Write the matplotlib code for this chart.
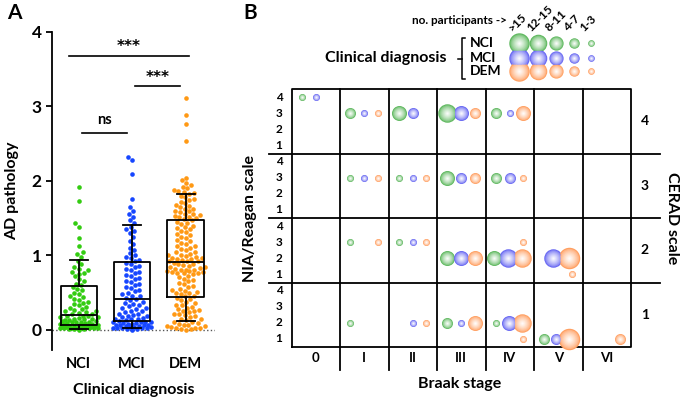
import numpy as np
import matplotlib
matplotlib.use("Agg")
import matplotlib.pyplot as plt
from matplotlib.colors import to_rgb

plt.rcParams['font.family'] = ['Lato', 'DejaVu Sans']
plt.rcParams['font.weight'] = 'bold'

# ---------------- panel A data ----------------
groups = ['NCI', 'MCI', 'DEM']
point_colors = ['#33cc11', '#1646ff', '#ff9914']

nci_values = [1.92, 1.73, 1.43, 1.38, 1.23, 1.13, 1.04, 1.02, 0.98,
              0.93, 0.88, 0.85, 0.82, 0.80, 0.78, 0.77, 0.75, 0.72, 0.68, 0.65, 0.62, 0.60,
              0.57, 0.55, 0.53, 0.50, 0.48, 0.46, 0.44, 0.42, 0.40, 0.38, 0.36, 0.35, 0.33,
              0.31, 0.30, 0.28, 0.27, 0.26, 0.25, 0.24, 0.23, 0.22, 0.21,
              0.19, 0.19, 0.18, 0.17, 0.17, 0.16, 0.15, 0.15, 0.14, 0.13, 0.13, 0.12,
              0.12, 0.11, 0.11, 0.10, 0.10, 0.09, 0.09, 0.08, 0.08, 0.08, 0.07,
              0.06, 0.06, 0.06, 0.05, 0.05, 0.05, 0.04, 0.04, 0.04, 0.04, 0.03, 0.03,
              0.03, 0.03, 0.02, 0.02, 0.02, 0.02, 0.01, 0.01, 0.01, 0.00]
mci_values = [2.32, 2.28, 2.09, 1.76, 1.65, 1.60, 1.56, 1.52, 1.47, 1.43,
              1.38, 1.35, 1.33, 1.30, 1.25, 1.20, 1.15, 1.10, 1.07, 1.03, 1.00, 0.98,
              0.96, 0.94, 0.92,
              0.90, 0.88, 0.86, 0.84, 0.82, 0.80, 0.78, 0.76, 0.74, 0.72, 0.70, 0.68,
              0.66, 0.64, 0.62, 0.60, 0.58, 0.56, 0.54, 0.52, 0.50, 0.48, 0.46, 0.45, 0.43,
              0.41, 0.40, 0.38, 0.36, 0.35, 0.33, 0.32, 0.30, 0.29, 0.28, 0.26, 0.25,
              0.24, 0.22, 0.21, 0.20, 0.19, 0.18, 0.17, 0.16, 0.15, 0.14, 0.14, 0.13, 0.12,
              0.11, 0.11, 0.10, 0.10, 0.09, 0.09, 0.08, 0.08, 0.07, 0.07, 0.06, 0.06,
              0.05, 0.05, 0.04, 0.04, 0.04, 0.03, 0.03, 0.02, 0.02, 0.02, 0.01, 0.01, 0.00]
dem_values = [3.11, 2.88, 2.76, 2.54, 2.04, 2.01, 1.97, 1.95, 1.92, 1.90, 1.88, 1.86,
              1.85, 1.84, 1.83,
              1.80, 1.78, 1.76, 1.74, 1.72, 1.70, 1.68, 1.66, 1.65, 1.63, 1.62, 1.60,
              1.59, 1.58, 1.56, 1.55, 1.54, 1.53, 1.52, 1.51, 1.50, 1.49,
              1.47, 1.45, 1.44, 1.42, 1.40, 1.38, 1.37, 1.35, 1.33, 1.31, 1.29, 1.27,
              1.25, 1.23, 1.21, 1.19, 1.17, 1.15, 1.13, 1.12, 1.10, 1.08, 1.07, 1.05,
              1.04, 1.02, 1.01, 1.00, 0.99, 0.98, 0.97, 0.96, 0.95, 0.95, 0.94, 0.93,
              0.92, 0.92,
              0.90, 0.89, 0.88, 0.87, 0.86, 0.85, 0.84, 0.83, 0.82, 0.81, 0.80, 0.80,
              0.79, 0.79, 0.78, 0.78, 0.77, 0.77, 0.76, 0.75, 0.73, 0.71, 0.69, 0.67,
              0.65, 0.63, 0.61, 0.59, 0.57, 0.55, 0.53, 0.52, 0.51, 0.50, 0.49, 0.48,
              0.46, 0.45,
              0.43, 0.42, 0.40, 0.38, 0.36, 0.34, 0.33, 0.31, 0.30, 0.28, 0.27, 0.26,
              0.25, 0.24, 0.22, 0.21, 0.20, 0.18, 0.17, 0.15, 0.14, 0.13,
              0.11, 0.10, 0.09, 0.08, 0.07, 0.06, 0.05, 0.05, 0.04, 0.03, 0.03, 0.02,
              0.01, 0.01, 0.00]

# box: median, quartiles, whiskers at 10th / 90th percentile
box_med = [0.20, 0.42, 0.91]
box_q1 = [0.07, 0.12, 0.44]
box_q3 = [0.59, 0.91, 1.48]
whisk_lo = [0.01, 0.02, 0.12]
whisk_hi = [0.94, 1.41, 1.82]

# significance bars: (x start, x end, height, label)
sig_bars = [(0.06, 0.90, 2.65, 'ns'), (1.05, 1.89, 3.27, '***'), (-0.19, 2.07, 3.68, '***')]

# ---------------- panel B data ----------------
braak_labels = ['0', 'I', 'II', 'III', 'IV', 'V', 'VI']
size_labels = ['>15', '12-15', '8-11', '4-7', '1-3']
bubble_colors = {'N': '#5fb85f', 'M': '#6868f2', 'D': '#ffa062'}
# bubbles per CERAD score: (braak index, NIA/Reagan score, group, size class 1=1-3 ... 5=>15)
cerad4 = [(0, 4, 'N', 1), (0, 4, 'M', 1), (1, 3, 'N', 2), (1, 3, 'M', 1), (1, 3, 'D', 1),
          (2, 3, 'N', 3), (2, 3, 'M', 2), (3, 3, 'N', 4), (3, 3, 'M', 3), (3, 3, 'D', 2),
          (4, 3, 'N', 2), (4, 3, 'M', 1), (4, 3, 'D', 3)]
cerad3 = [(1, 3, 'N', 1), (1, 3, 'M', 1), (1, 3, 'D', 1), (2, 3, 'N', 1), (2, 3, 'M', 1),
          (2, 3, 'D', 1), (3, 3, 'N', 3), (3, 3, 'M', 2), (3, 3, 'D', 2), (4, 3, 'N', 2),
          (4, 3, 'M', 2), (4, 3, 'D', 1)]
cerad2 = [(1, 3, 'N', 1), (1, 3, 'D', 1), (2, 3, 'N', 1), (2, 3, 'M', 1), (2, 3, 'D', 1),
          (3, 2, 'N', 3), (3, 2, 'M', 3), (3, 2, 'D', 3), (4, 2, 'N', 3), (4, 2, 'M', 4),
          (4, 2, 'D', 4), (4, 3, 'D', 1), (5, 2, 'M', 4), (5, 2, 'D', 5), (5, 1, 'D', 1)]
cerad1 = [(1, 2, 'N', 1), (2, 2, 'M', 1), (2, 2, 'D', 1), (3, 2, 'N', 2), (3, 2, 'M', 1),
          (3, 2, 'D', 3), (4, 2, 'N', 1), (4, 2, 'M', 3), (4, 2, 'D', 4), (4, 1, 'D', 1),
          (5, 1, 'N', 2), (5, 1, 'M', 2), (5, 1, 'D', 5), (6, 1, 'D', 2)]
cerad_rows = {4: cerad4, 3: cerad3, 2: cerad2, 1: cerad1}

# diameters (px) for size classes 1..5
class_diam = {1: 7.0, 2: 11.0, 3: 15.0, 4: 18.5, 5: 21.5}

W, H = 685, 400
fig = plt.figure(figsize=(W / 100, H / 100), dpi=100)


def fx(px):
    return px / W


def fy(py):
    return 1 - py / H


def swarm_offsets(values, px_per_unit, diam, max_half):
    # beeswarm in pixels; when there is no free spot inside the band,
    # take the spot inside the band that is farthest from its neighbours
    vals = np.asarray(values, dtype=float)
    order = np.argsort(vals)
    ys = vals[order] * px_per_unit
    placed = []
    xs = np.zeros(len(ys))
    grid = np.linspace(-max_half, max_half, 41)
    for i, y in enumerate(ys):
        near = [(px, py) for px, py in placed if abs(y - py) < diam]
        cands = [0.0]
        for px, py in near:
            dx = np.sqrt(diam ** 2 - (y - py) ** 2)
            cands += [px + dx, px - dx]
        cands = [c for c in cands if abs(c) <= max_half]
        cands.sort(key=lambda c: (abs(c), c))
        chosen = None
        for c in cands:
            if all((c - px) ** 2 + (y - py) ** 2 >= diam ** 2 - 1e-6 for px, py in near):
                chosen = c
                break
        if chosen is None:
            best = -1
            for c in grid:
                d = min((c - px) ** 2 + (y - py) ** 2 for px, py in near)
                if d > best + 1e-9:
                    best, chosen = d, c
        xs[i] = chosen
        placed.append((chosen, y))
    out = np.empty(len(ys))
    out[order] = xs
    return out


# ================= Panel A =================
axA = fig.add_axes([fx(52), fy(350), fx(215) - fx(52), fy(32) - fy(350)])
ylo, yhi = -0.27, 4.0
axA.set_ylim(ylo, yhi)
axA.set_xlim(-0.5, 2.55)
px_per_y = 318 / (yhi - ylo)
px_per_x = 163 / 3.05

for i, vals in enumerate([nci_values, mci_values, dem_values]):
    off = swarm_offsets(vals, px_per_y, 5.0, 19.0) / px_per_x
    axA.scatter(i + off, vals, s=(4.6 * 0.72) ** 2, color=point_colors[i],
                linewidths=0, zorder=2, clip_on=False)

stats = []
for i in range(3):
    stats.append(dict(med=box_med[i], q1=box_q1[i], q3=box_q3[i],
                      whislo=whisk_lo[i], whishi=whisk_hi[i], fliers=[]))
lp = dict(color='black', linewidth=1.3)
axA.bxp(stats, positions=[0, 1, 2], widths=0.68, capwidths=0.34, showfliers=False,
        boxprops=lp, whiskerprops=lp, capprops=lp, medianprops=lp, zorder=3)

axA.axhline(0, color='#555555', linestyle=':', linewidth=1.0, zorder=1)

for x0, x1, yv, lab in sig_bars:
    axA.plot([x0, x1], [yv, yv], color='black', linewidth=1.2, clip_on=False)
    if lab == 'ns':
        axA.text((x0 + x1) / 2, yv + 0.07, lab, ha='center', va='bottom', fontsize=10.5,
                 fontweight='bold')
    else:
        axA.text((x0 + x1) / 2, yv + 0.02, lab, ha='center', va='bottom', fontsize=11,
                 fontweight='bold', family='DejaVu Sans')

axA.spines['top'].set_visible(False)
axA.spines['right'].set_visible(False)
axA.spines['bottom'].set_visible(False)
axA.spines['left'].set_linewidth(1.3)
axA.set_yticks([0, 1, 2, 3, 4])
axA.tick_params(axis='y', labelsize=12.5, width=1.3, length=4)
axA.set_xticks([0, 1, 2])
axA.set_xticklabels(groups)
axA.tick_params(axis='x', length=0, labelsize=10.5, pad=5)
axA.set_ylabel('AD pathology', fontsize=11.5, fontweight='bold')
axA.yaxis.set_label_coords(-0.2, 0.5)
axA.set_xlabel('Clinical diagnosis', fontsize=11.5, fontweight='bold', labelpad=9)

# ================= Panel B =================
gx0, gx1, gy0, gy1 = 291.5, 631.0, 89.0, 347.0
axB = fig.add_axes([fx(gx0), fy(gy1), fx(gx1) - fx(gx0), fy(gy0) - fy(gy1)])
axB.set_xlim(0, 7)
axB.set_ylim(0, 16)
axB.axis('off')
cell_px = (gx1 - gx0) / 7
sub_px = (gy1 - gy0) / 16

lw = 1.3
axB.plot([0, 7, 7, 0, 0], [0, 0, 16, 16, 0], color='black', lw=lw, clip_on=False)
for yv in [4, 8, 12]:
    axB.plot([-22.5 / cell_px, 7 + 29 / cell_px], [yv, yv], color='black', lw=lw, clip_on=False)
for xv in range(1, 7):
    axB.plot([xv, xv], [-23 / sub_px, 16], color='black', lw=lw, clip_on=False)

for j, lab in enumerate(braak_labels):
    axB.text(j + 0.5, -11 / sub_px, lab, ha='center', va='center', fontsize=9.5,
             fontweight='bold')
for c in range(1, 5):
    base = (c - 1) * 4
    for n in range(1, 5):
        axB.text(-12.5 / cell_px, base + n - 0.5, str(n), ha='center', va='center',
                 fontsize=8.5, fontweight='bold')
    axB.text(7 + 14 / cell_px, base + 2, str(c), ha='center', va='center', fontsize=10,
             fontweight='bold')


def bubble(ax, x, y, diam_px, color):
    rgb = np.array(to_rgb(color))
    steps = 9
    for k in range(steps):
        frac = 1 - k / steps
        w = 0.95 * (k / (steps - 1)) ** 0.7
        col = rgb * (1 - w) + w
        ax.scatter([x], [y], s=(diam_px * frac * 0.72) ** 2, color=col, linewidths=0,
                   zorder=4 + k * 0.01, clip_on=False)


base_off = {'N': 0.21, 'M': 0.50, 'D': 0.78}
for c, rows in cerad_rows.items():
    cells = {}
    for b, n, g, sz in rows:
        cells.setdefault((b, n), {})[g] = sz
    for (b, n), members in cells.items():
        xs = {}
        right = None
        for g in ['D', 'M', 'N']:
            if g not in members:
                continue
            r = class_diam[members[g]] / 2
            x = base_off[g]
            if g == 'D':
                x = min(x, 1 - (r + 0.5) / cell_px - 0.04)
            if right is not None:
                x = min(x, right[0] - (right[1] + r) * 0.8 / cell_px)
            xs[g] = x
            right = (x, r)
        for g in ['N', 'M', 'D']:
            if g in xs:
                bubble(axB, b + xs[g], (c - 1) * 4 + n - 0.5, class_diam[members[g]],
                       bubble_colors[g])

# axis titles of panel B (overlay coordinates in figure pixels)
ov = fig.add_axes([0, 0, 1, 1])
ov.set_xlim(0, W)
ov.set_ylim(H, 0)
ov.axis('off')

ov.text(460, 384, 'Braak stage', ha='center', va='center', fontsize=11.5, fontweight='bold')
ov.text(250, 218, 'NIA/Reagan scale', ha='center', va='center', rotation=90,
        fontsize=11.5, fontweight='bold')
ov.text(672, 218, 'CERAD scale', ha='center', va='center', rotation=-90,
        fontsize=11.5, fontweight='bold')

ov.text(7, 13, 'A', ha='left', va='center', fontsize=15, fontweight='bold')
ov.text(243, 13, 'B', ha='left', va='center', fontsize=15, fontweight='bold')

# legend
ov.text(447, 58, 'Clinical diagnosis', ha='right', va='center', fontsize=11.5,
        fontweight='bold')
ov.plot([465, 462, 462, 465], [38, 38, 79, 79], color='black', lw=1.1)
ov.plot([458, 462], [58.5, 58.5], color='black', lw=1.1)
leg_rows = [('NCI', 'N', 43), ('MCI', 'M', 57.5), ('DEM', 'D', 71)]
leg_x = [519, 538, 556, 574, 591]
for lab, g, yy in leg_rows:
    ov.text(470, yy, lab, ha='left', va='center', fontsize=10, fontweight='bold')
for lab, g, yy in leg_rows:
    for k, xx in enumerate(leg_x):
        bubble(ov, xx, yy, class_diam[5 - k] * 0.95, bubble_colors[g])
ov.text(507, 20, 'no. participants ->', ha='right', va='center', fontsize=8.5,
        fontweight='bold')
for k, xx in enumerate(leg_x):
    ov.text(xx - 5, 33, size_labels[k], ha='left', va='bottom', rotation=45,
            rotation_mode='anchor', fontsize=8.5, fontweight='bold')

fig.savefig('out.png', dpi=100)
